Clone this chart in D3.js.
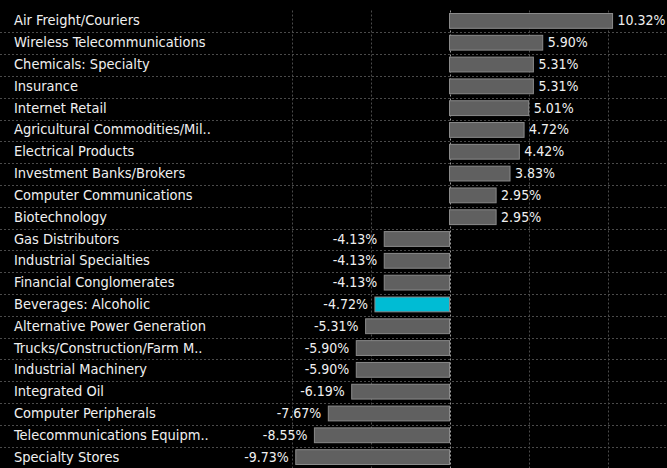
<!DOCTYPE html>
<html><head><meta charset="utf-8">
<script src="https://cdn.jsdelivr.net/npm/d3@7/dist/d3.min.js"></script>
<style>
html,body{margin:0;padding:0;background:#000;}
svg{display:block;}
text{font-family:"DejaVu Sans Condensed","DejaVu Sans",sans-serif;}
</style></head>
<body><svg id="c" width="667" height="468"></svg>
<script>
const categories = ["Air Freight/Couriers","Wireless Telecommunications","Chemicals: Specialty","Insurance","Internet Retail","Agricultural Commodities/Mil..","Electrical Products","Investment Banks/Brokers","Computer Communications","Biotechnology","Gas Distributors","Industrial Specialties","Financial Conglomerates","Beverages: Alcoholic","Alternative Power Generation","Trucks/Construction/Farm M..","Industrial Machinery","Integrated Oil","Computer Peripherals","Telecommunications Equipm..","Specialty Stores"];
const values = [10.32,5.90,5.31,5.31,5.01,4.72,4.42,3.83,2.95,2.95,-4.13,-4.13,-4.13,-4.72,-5.31,-5.90,-5.90,-6.19,-7.67,-8.55,-9.73];
const highlighted = ["Beverages: Alcoholic"];
const gridTicks = [-10,-5,0,5,10];

const svg = d3.select("#c");
const x = d3.scaleLinear().domain([-10,10]).range([291.5,607.5]);
const y = d3.scaleBand().domain(categories).range([10.5,468.5]).paddingInner(0).paddingOuter(0);
const bw = y.bandwidth();

svg.append("g").selectAll("line").data(categories.slice(1)).join("line")
  .attr("x1",0).attr("x2",667)
  .attr("y1",d=>Math.round(y(d))+0.5).attr("y2",d=>Math.round(y(d))+0.5)
  .attr("stroke","#4a4a4a").attr("stroke-dasharray","2,2");

svg.append("g").selectAll("line").data(gridTicks).join("line")
  .attr("x1",d=>Math.round(x(d))+0.5).attr("x2",d=>Math.round(x(d))+0.5)
  .attr("y1",10.5).attr("y2",468)
  .attr("stroke",d=>d===0?"#9a9a9a":"#4a4a4a").attr("stroke-dasharray","2,2");

const rows = categories.map((c,i)=>({c, v:values[i]}));

svg.append("g").selectAll("rect").data(rows).join("rect")
  .attr("x",d=>Math.min(x(0),x(d.v)))
  .attr("width",d=>Math.abs(x(d.v)-x(0)))
  .attr("y",d=>y(d.c)+3)
  .attr("height",bw-7)
  .attr("fill",d=>highlighted.includes(d.c)?"#00bcd4":"#606060")
  .attr("stroke","#8a8a8a").attr("stroke-width",1);

svg.append("g").selectAll("text").data(rows).join("text")
  .attr("x",14).attr("y",d=>y(d.c)+bw/2-1)
  .attr("dominant-baseline","central")
  .attr("fill","#f0f0f0").attr("font-size",14.5)
  .text(d=>d.c);

svg.append("g").selectAll("text").data(rows).join("text")
  .attr("x",d=>d.v>=0?x(d.v)+5:x(d.v)-7)
  .attr("y",d=>y(d.c)+bw/2-1)
  .attr("text-anchor",d=>d.v>=0?"start":"end")
  .attr("dominant-baseline","central")
  .attr("fill","#f0f0f0").attr("font-size",14)
  .text(d=>d.v.toFixed(2)+"%");
</script></body></html>
